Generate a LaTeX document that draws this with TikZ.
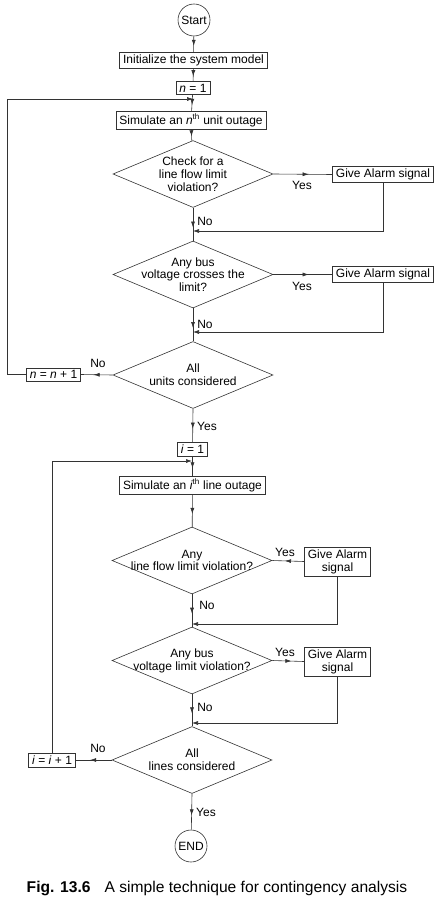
\documentclass[tikz,border=0pt]{standalone}
\usepackage{fontspec}
\setmainfont{Liberation Sans}
\usetikzlibrary{positioning,shapes.geometric,arrows.meta,decorations.markings}

\tikzset{
  txt/.style={font=\fontsize{12}{12.8}\selectfont, align=center},
  box/.style={txt, draw, inner xsep=3.5pt, inner ysep=2.5pt},
  dec/.style={draw, diamond, minimum width=160pt, minimum height=67pt, inner sep=0pt},
  term/.style={txt, draw, circle, minimum size=32pt, inner sep=0pt},
  lab/.style={txt},
  flow/.style={postaction={decorate}, decoration={markings,
    mark=at position 0.6 with {\arrow{Latex[length=6pt,width=4pt]}}}},
  tip/.style={-{Latex[length=6pt,width=4pt]}}
}

\begin{document}
\begin{tikzpicture}[x=1pt, y=-1pt, line width=0.6pt, draw=black!80]
\useasboundingbox (0,0) rectangle (446,904);

\node[term] (start) at (194, 20) {Start};
\node[box] (init) at (193.5, 60.5) {Initialize the system model};
\node[box] (n1) at (193, 88) {\textit{n} = 1};
\node[box] (sim1) at (191, 120.5) {Simulate an \textit{n}\textsuperscript{th} unit outage};

\node[dec] (d1) at (193, 174) {};
\node[txt] at (d1) {Check for a\\line flow limit\\violation?};
\node[box] (al1) at (383, 174.5) {Give Alarm signal};

\node[dec] (d2) at (193, 274.5) {};
\node[txt] at (d2) {Any bus\\voltage crosses the\\limit?};
\node[box] (al2) at (383, 274.5) {Give Alarm signal};

\node[dec] (d3) at (193, 375) {};
\node[txt] at (d3) {All\\units considered};
\node[box] (nn) at (53.5, 374.5) {\textit{n} = \textit{n} + 1};

\node[box] (i1) at (192.5, 449) {\textit{i} = 1};
\node[box] (sim2) at (192.5, 485.5) {Simulate an \textit{i}\textsuperscript{th} line outage};

\node[dec] (d4) at (192, 560.5) {};
\node[txt] at (d4) {Any\\line flow limit violation?};
\node[box] (al3) at (337.5, 561.5) {Give Alarm\\signal};

\node[dec] (d5) at (192, 660.5) {};
\node[txt] at (d5) {Any bus\\voltage limit violation?};
\node[box] (al4) at (337.5, 661.5) {Give Alarm\\signal};

\node[dec] (d6) at (192, 760) {};
\node[txt] at (d6) {All\\lines considered};
\node[box] (ii) at (52, 760) {\textit{i} = \textit{i} + 1};

\node[term] (end) at (191, 846) {END};

\node[font=\fontsize{15.6}{18}\selectfont] (cap) at (217, 888)
  {\textbf{Fig. 13.6}\hspace{0.9em}A simple technique for contingency analysis};

% merge points on the main line
\coordinate (m1) at (193, 231);
\coordinate (m2) at (193, 332);
\coordinate (m3) at (192, 624);
\coordinate (m4) at (192, 723);
\coordinate (l1) at (193, 99);
\coordinate (c1) at (7, 99);
\coordinate (l2) at (192, 461);

% upper part
\draw[flow] (start) -- (init);
\draw[flow] (init) -- (n1);
\draw[flow] (n1) -- (sim1);
\draw[flow] (sim1) -- (d1);
\draw[flow] (d1.east) -- (al1.west);
\draw[tip] (al1.south) |- (m1);
\draw[flow] (d1.south) -- (d2.north);
\draw[flow] (d2.east) -- (al2.west);
\draw[tip] (al2.south) |- (m2);
\draw[flow] (d2.south) -- (d3.north);
\draw[flow] (d3.west) -- (nn.east);
\draw[tip] (nn.west) -| (c1) -- (l1);
\draw[flow] (d3.south) -- (i1);

% lower part
\draw[flow] (i1) -- (sim2);
\draw[flow] (sim2) -- (d4);
\draw[flow] (al3.west) -- (d4.east);
\draw[tip] (al3.south) |- (m3);
\draw[flow] (d4.south) -- (d5.north);
\draw[flow] (d5.east) -- (al4.west);
\draw[tip] (al4.south) |- (m4);
\draw[flow] (d5.south) -- (d6.north);
\draw[flow] (d6.west) -- (ii.east);
\draw[tip] (ii.north) |- (l2);
\draw[flow] (d6.south) -- (end);

% branch labels
\node[lab] (y1) at (302, 185) {Yes};
\node[lab] (no1) at (205, 221) {No};
\node[lab] (y2) at (302, 286) {Yes};
\node[lab] (no2) at (205, 324) {No};
\node[lab] (no3) at (98, 363) {No};
\node[lab] (y3) at (207, 426) {Yes};
\node[lab] (y4) at (285, 552) {Yes};
\node[lab] (no4) at (207, 605) {No};
\node[lab] (y5) at (285, 652) {Yes};
\node[lab] (no5) at (205, 707) {No};
\node[lab] (no6) at (98, 748) {No};
\node[lab] (y6) at (206, 812) {Yes};
\end{tikzpicture}
\end{document}
